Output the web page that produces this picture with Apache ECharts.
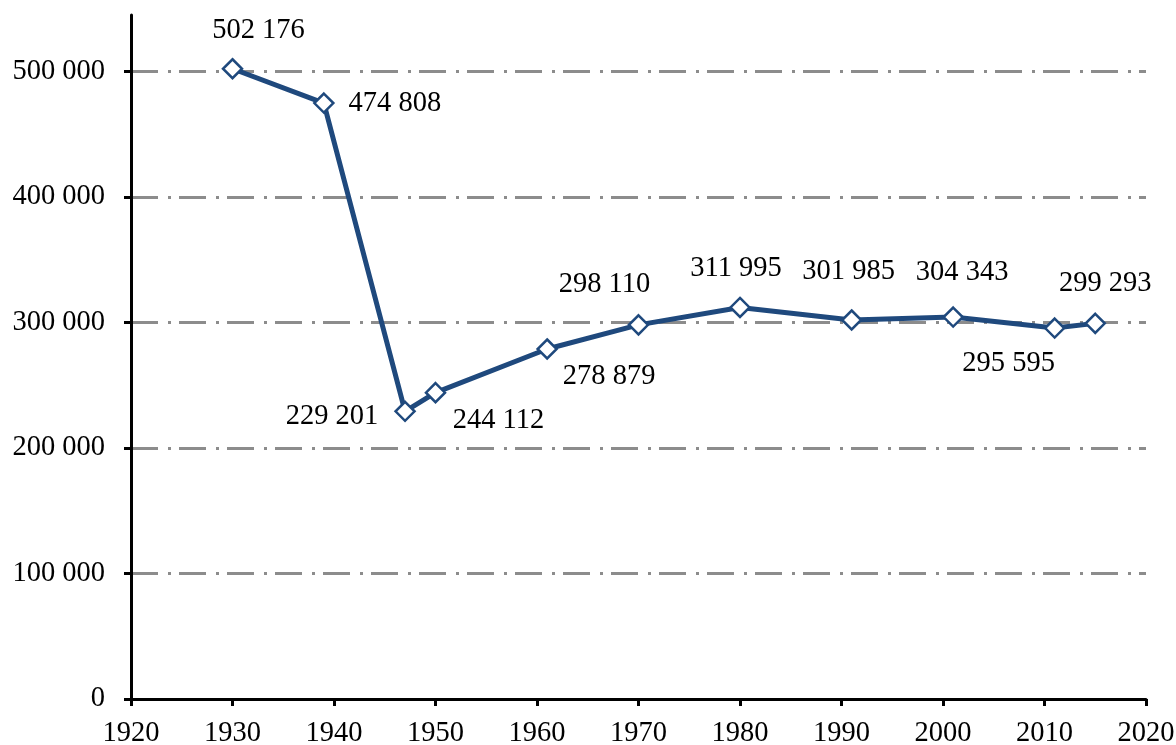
<!DOCTYPE html>
<html>
<head>
<meta charset="utf-8">
<script src="https://cdn.jsdelivr.net/npm/echarts@6/dist/echarts.min.js"></script>
<style>
html,body{margin:0;padding:0;background:#fff;}
#chart{width:1176px;height:745px;}
</style>
</head>
<body>
<div id="chart"></div>
<script>
const years = [1930, 1939, 1947, 1950, 1961, 1970, 1980, 1991, 2001, 2011, 2015];
const population = [502176, 474808, 229201, 244112, 278879, 298110, 311995, 301985, 304343, 295595, 299293];
const yTicks = [0, 100000, 200000, 300000, 400000, 500000];
const xTicks = [1920, 1930, 1940, 1950, 1960, 1970, 1980, 1990, 2000, 2010, 2020];
const labelOffsets = [[26,-38],[71,0],[-73,5],[63,28],[62,28],[-34,-40],[-4,-39],[-3,-48],[9,-45],[-46,36],[10,-40]];

function fmt(v){
  return String(v).replace(/\B(?=(\d{3})+(?!\d))/g, ' ');
}

const font = 'Liberation Serif';
const fs = 28.5;
const chart = echarts.init(document.getElementById('chart'));
chart.setOption({
  animation: false,
  backgroundColor: '#fff',
  grid: {left: 131, right: 30, top: 15, bottom: 46, containLabel: false, outerBoundsMode: 'none'},
  xAxis: {
    type: 'value', min: 1920, max: 2020, interval: 10,
    axisLine: {show: true, onZero: false, lineStyle: {color: '#000', width: 3}},
    axisTick: {show: true, length: 7, lineStyle: {color: '#000', width: 3}},
    axisLabel: {color: '#000', fontFamily: font, fontSize: fs, margin: 20,
      customValues: xTicks, formatter: v => String(v)},
    splitLine: {show: false}
  },
  yAxis: {
    type: 'value', min: 0, max: 545000, interval: 100000,
    axisLine: {show: true, lineStyle: {color: '#000', width: 3}},
    axisTick: {show: true, length: 7, lineStyle: {color: '#000', width: 3}, customValues: yTicks},
    axisLabel: {color: '#000', fontFamily: font, fontSize: fs, margin: 26,
      customValues: yTicks, formatter: v => fmt(v)},
    splitLine: {show: true, showMinLine: false, showMaxLine: true,
      lineStyle: {color: '#8c8c8c', width: 3, type: [27, 10, 3, 8]}}
  },
  series: [{
    type: 'line',
    data: years.map((y, i) => [y, population[i]]),
    symbol: 'diamond',
    symbolSize: 19,
    itemStyle: {color: '#fff', borderColor: '#1f497d', borderWidth: 2.5},
    lineStyle: {color: '#1f497d', width: 5},
    z: 3,
    label: {show: true, position: 'inside', color: '#000', fontFamily: font, fontSize: fs,
      formatter: p => fmt(p.value[1])},
    labelLayout: function(params){
      const o = labelOffsets[params.dataIndex];
      return {x: params.rect.x + params.rect.width/2 + o[0], y: params.rect.y + params.rect.height/2 + o[1], align: 'center', verticalAlign: 'middle'};
    }
  }]
});
</script>
</body>
</html>
